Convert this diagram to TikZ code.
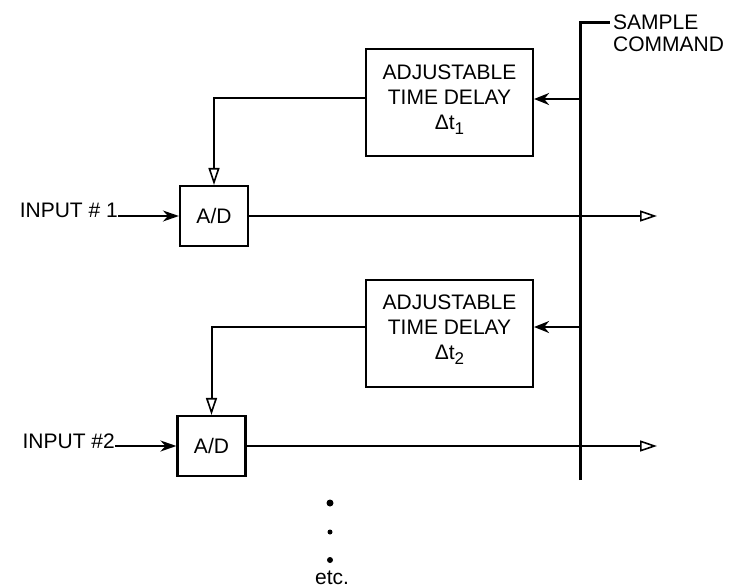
\documentclass[tikz,border=0pt]{standalone}
\usepackage{fontspec}
\setmainfont{Liberation Sans}
\usetikzlibrary{arrows.meta}
\newcommand{\mysub}[1]{\raisebox{-5pt}{\fontsize{17}{20}\selectfont #1}}
\begin{document}
\begin{tikzpicture}[x=1pt,y=-1pt,
  txt/.style={inner sep=0pt,font=\fontsize{21}{25}\selectfont},
  blk/.style={draw,line width=2.2pt,inner sep=0pt},
  dbox/.style={blk,minimum width=167pt,minimum height=107pt},
  adbox/.style={blk,minimum width=68pt,minimum height=60pt,font=\fontsize{21}{25}\selectfont},
  wire/.style={line width=2pt},
  inarr/.style={wire,-{Stealth[length=16pt,width=11pt]}},
  cmdarr/.style={wire,-{Stealth[length=15pt,width=12pt]}},
  openarr/.style={wire,-{Triangle[open,length=17pt,width=11pt,line width=1.6pt]}},
  bus/.style={line width=3pt}]
\useasboundingbox (0,0) rectangle (729,587);

% bus
\coordinate (bust) at (580,22);
\coordinate (busb) at (580,480);
\coordinate (hook) at (610,22);
\draw[bus] (busb) -- (bust) -- (hook);
\node[txt,align=left,anchor=west,font=\fontsize{21}{22}\selectfont] (cmd) at (613,33.5) {SAMPLE\\COMMAND};

% channel 1
\node[dbox] (d1) at (449.5,102.5) {};
\node[txt,align=center] (t1) at (449.5,100) {ADJUSTABLE\\TIME DELAY\\Δt\mysub{1}};
\node[adbox] (ad1) at (214,216) {A/D};
\node[txt,anchor=base east] (in1) at (118,217) {INPUT \# 1};
\coordinate (b1) at (580,99);
\coordinate (l1) at (366,98);
\coordinate (o1) at (657,216);
\draw[cmdarr] (b1) -- (b1 -| d1.east);
\draw[openarr] (l1) -| (ad1.north);
\draw[inarr] (in1.east |- ad1.west) -- (ad1.west);
\draw[openarr] (ad1.east) -- (o1);

% channel 2
\node[dbox] (d2) at (449.5,333.5) {};
\node[txt,align=center] (t2) at (449.5,330) {ADJUSTABLE\\TIME DELAY\\Δt\mysub{2}};
\node[adbox] (ad2) at (211.5,446) {A/D};
\node[txt,anchor=base east] (in2) at (115,448) {INPUT \#2};
\coordinate (b2) at (580,327);
\coordinate (l2) at (366,327);
\coordinate (o2) at (657,446);
\draw[cmdarr] (b2) -- (b2 -| d2.east);
\draw[openarr] (l2) -| (ad2.north);
\draw[inarr] (in2.east |- ad2.west) -- (ad2.west);
\draw[openarr] (ad2.east) -- (o2);

% etc.
\fill (330,503) circle (3.5pt);
\fill (330,532) circle (2.5pt);
\fill (330,560) circle (3pt);
\node[txt,anchor=base] (etc) at (332,584) {etc.};
\end{tikzpicture}
\end{document}
